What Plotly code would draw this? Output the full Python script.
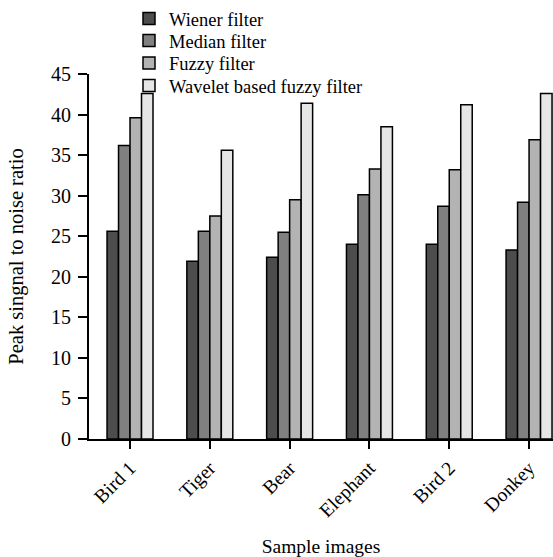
import plotly.graph_objects as go

categories = ["Bird 1", "Tiger", "Bear", "Elephant", "Bird 2", "Donkey"]
wiener = [25.6, 21.9, 22.4, 24.0, 24.0, 23.3]
median = [36.2, 25.6, 25.5, 30.1, 28.7, 29.2]
fuzzy = [39.6, 27.5, 29.5, 33.3, 33.2, 36.9]
wavelet = [42.6, 35.6, 41.4, 38.5, 41.2, 42.6]

series_names = ["Wiener filter", "Median filter", "Fuzzy filter", "Wavelet based fuzzy filter"]
series_values = [wiener, median, fuzzy, wavelet]
series_colors = ["#4d4d4d", "#808080", "#b3b3b3", "#e6e6e6"]

font = "Liberation Serif, Times New Roman, serif"
fs = 18.5

legend_ids = ["legend", "legend2", "legend3", "legend4"]
legend_y = [1.1507, 1.0904, 1.0288, 0.9671]

fig = go.Figure()
for name, vals, col, lid in zip(series_names, series_values, series_colors, legend_ids):
    fig.add_trace(go.Bar(
        x=categories, y=vals, name=name, legend=lid,
        marker=dict(color=col, line=dict(color="black", width=1.5)),
    ))

fig.update_layout(
    width=553, height=557,
    margin=dict(l=89, r=0, t=74, b=118),
    paper_bgcolor="white", plot_bgcolor="white",
    barmode="group", bargap=0.424, bargroupgap=0,
    font=dict(family=font, size=fs, color="black"),
    showlegend=True,
)
for lid, ly in zip(legend_ids, legend_y):
    fig.layout[lid] = go.layout.Legend(
        x=0.0862, y=ly, xanchor="left", yanchor="middle",
        bgcolor="rgba(0,0,0,0)",
        font=dict(size=fs, family=font, color="black"),
        itemwidth=30, borderwidth=0,
    )

fig.update_xaxes(
    automargin=False,
    range=[-0.514, 5.30], showline=True, linecolor="black", linewidth=2,
    ticks="outside", ticklen=8, tickwidth=2, tickcolor="black",
    tickangle=-45, showgrid=False, zeroline=False,
    tickfont=dict(size=19.5, family=font),
    title=dict(text="Sample images", font=dict(size=19.5, family=font), standoff=28),
)
fig.update_yaxes(
    automargin=False,
    range=[0, 45], dtick=5, showline=True, linecolor="black", linewidth=2,
    ticks="outside", ticklen=9, tickwidth=2, tickcolor="black",
    showgrid=False, zeroline=False, ticklabelstandoff=3,
    tickfont=dict(size=20, family=font),
    title=dict(text="Peak singnal to noise ratio", font=dict(size=20.5, family=font), standoff=22),
)

fig.write_html("out.html", config={"displayModeBar": False},
               post_script="document.body.style.margin='0';document.body.style.padding='0';")
